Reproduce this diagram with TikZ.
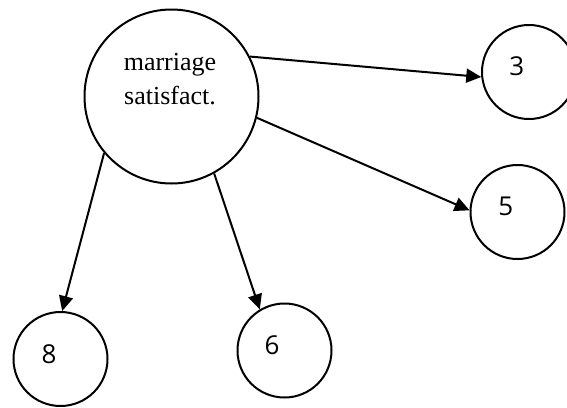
\documentclass[tikz,border=0pt]{standalone}
\usepackage{fontspec}
\setmainfont{Liberation Serif}
\newfontfamily\digitfont{Open Sans}
\usetikzlibrary{arrows.meta}
\begin{document}
\begin{tikzpicture}[x=1pt,y=-1pt,
  circ/.style={circle,draw,line width=2pt,inner sep=0pt},
  small/.style={circ,minimum size=94pt},
  digit/.style={font=\digitfont\fontsize{26}{30}\selectfont,inner sep=0pt},
  arr/.style={line width=2pt,-{Triangle[length=15pt,width=14pt]}}]
\useasboundingbox (0,0) rectangle (567,407);
\clip (0,0) rectangle (567,407);
\node[circ,minimum size=174pt] (big) at (171.5,96.5) {};
\node[align=center,inner sep=0pt,font=\fontsize{26}{34}\selectfont] (bt) at (170,79) {marriage\\satisfact.};
\node[small] (n3) at (529,72) {};
\node[small] (n5) at (517.5,212) {};
\node[small] (n8) at (60.5,359) {};
\node[small] (n6) at (284.5,350.5) {};
\node[digit] (t3) at (516.7,66) {3};
\node[digit] (t5) at (505.7,206.7) {5};
\node[digit] (t8) at (49,354) {8};
\node[digit] (t6) at (272,345) {6};
\draw[arr] (big.27.3) -- (n3.186);
\draw[arr] (big.-14.4) -- (n5.178.4);
\draw[arr] (big.220.7) -- (n8.88);
\draw[arr] (big.-61.3) -- (n6.121.8);
\end{tikzpicture}
\end{document}
